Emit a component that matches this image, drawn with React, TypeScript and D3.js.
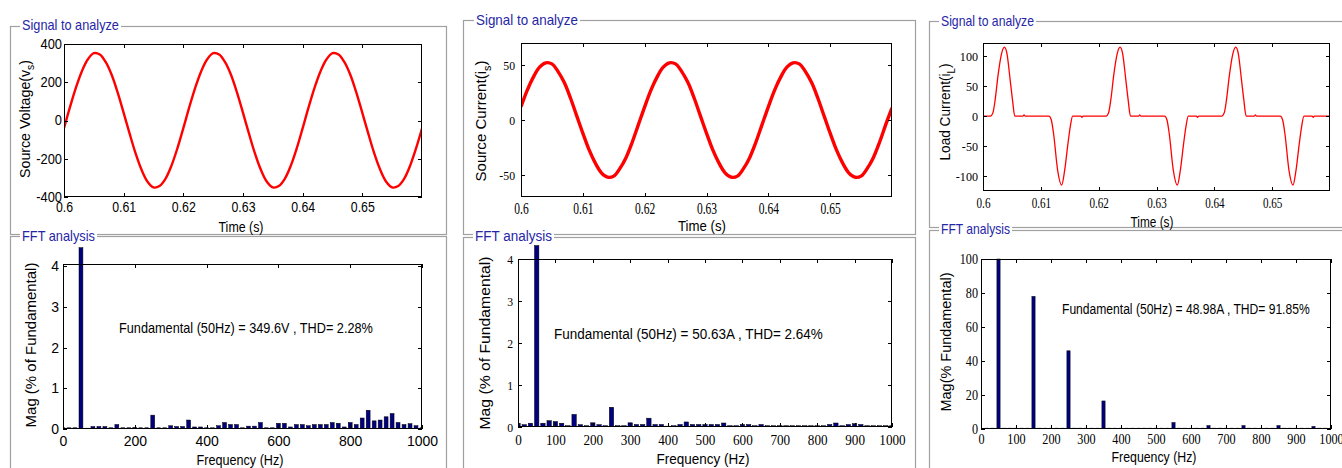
import React, { useEffect, useRef } from "react"
import * as d3 from "d3"

const W = 1342
const H = 468

const SANS = '"Liberation Sans", Arial, sans-serif'
const SERIF = '"Liberation Serif", "Times New Roman", serif'

// sample instants of the captured window (3 cycles of 50 Hz)
const SIG_T = [
	0.600, 0.601, 0.602, 0.603, 0.604, 0.605, 0.606, 0.607, 0.608, 0.609,
	0.610, 0.611, 0.612, 0.613, 0.614, 0.615, 0.616, 0.617, 0.618, 0.619,
	0.620, 0.621, 0.622, 0.623, 0.624, 0.625, 0.626, 0.627, 0.628, 0.629,
	0.630, 0.631, 0.632, 0.633, 0.634, 0.635, 0.636, 0.637, 0.638, 0.639,
	0.640, 0.641, 0.642, 0.643, 0.644, 0.645, 0.646, 0.647, 0.648, 0.649,
	0.650, 0.651, 0.652, 0.653, 0.654, 0.655, 0.656, 0.657, 0.658, 0.659,
	0.660,
]

const SOURCE_V = [
	-40, 70, 172, 258, 320, 352, 345, 305, 238, 146,
	40, -69, -172, -258, -320, -350, -343, -305, -237, -146,
	-40, 70, 172, 258, 320, 352, 345, 305, 238, 146,
	40, -69, -172, -258, -320, -350, -343, -305, -237, -146,
	-40, 70, 172, 258, 320, 352, 345, 305, 238, 146,
	40, -69, -172, -258, -320, -350, -343, -305, -237, -146,
	-42,
]

const SOURCE_I = [
	12, 27, 39, 48, 52, 51, 44, 34, 20, 4,
	-12, -27, -39, -48, -52, -51, -44, -34, -20, -4,
	12, 27, 39, 48, 52, 51, 44, 34, 20, 4,
	-12, -27, -39, -48, -52, -51, -44, -34, -20, -4,
	12, 27, 39, 48, 52, 51, 44, 34, 20, 4,
	-12, -27, -39, -48, -52, -51, -44, -34, -20, -4,
	11,
]

// load current, read at its breakpoints
const LOAD_T = [
	0.6000, 0.6013, 0.6017, 0.6021, 0.6026, 0.6032, 0.6037, 0.60415, 0.6047, 0.6051, 0.6055,
	0.6069, 0.6071, 0.6073,
	0.6114, 0.6118, 0.6122, 0.6129, 0.6136, 0.6141, 0.6147, 0.6151, 0.6155,
	0.6169, 0.6171, 0.6173,
	0.6213, 0.6217, 0.6221, 0.6226, 0.6232, 0.6237, 0.62415, 0.6247, 0.6251, 0.6255,
	0.6269, 0.6271, 0.6273,
	0.6314, 0.6318, 0.6322, 0.6329, 0.6336, 0.6341, 0.6347, 0.6351, 0.6355,
	0.6369, 0.6371, 0.6373,
	0.6413, 0.6417, 0.6421, 0.6426, 0.6432, 0.6437, 0.64415, 0.6447, 0.6451, 0.6455,
	0.6469, 0.6471, 0.6473,
	0.6514, 0.6518, 0.6522, 0.6529, 0.6536, 0.6541, 0.6547, 0.6551, 0.6555,
	0.6569, 0.6571, 0.6573,
	0.6600,
]
const LOAD_I = [
	0, 0, 5, 27, 68, 104, 115, 104, 60, 27, 0,
	0, 2, 0,
	0, -6, -29, -90, -115, -92, -45, -17, 0,
	0, -2, 0,
	0, 5, 27, 68, 104, 115, 104, 60, 27, 0,
	0, 2, 0,
	0, -6, -29, -90, -115, -92, -45, -17, 0,
	0, -2, 0,
	0, 5, 27, 68, 104, 115, 104, 60, 27, 0,
	0, 2, 0,
	0, -6, -29, -90, -115, -92, -45, -17, 0,
	0, -2, 0,
	0,
]

// FFT bins (resolution 1/0.06 s)
const FFT_FREQ = [
	0, 16.7, 33.3, 50, 66.7, 83.3, 100, 116.7, 133.3, 150,
	166.7, 183.3, 200, 216.7, 233.3, 250, 266.7, 283.3, 300, 316.7,
	333.3, 350, 366.7, 383.3, 400, 416.7, 433.3, 450, 466.7, 483.3,
	500, 516.7, 533.3, 550, 566.7, 583.3, 600, 616.7, 633.3, 650,
	666.7, 683.3, 700, 716.7, 733.3, 750, 766.7, 783.3, 800, 816.7,
	833.3, 850, 866.7, 883.3, 900, 916.7, 933.3, 950, 966.7, 983.3,
	1000,
]

// % of fundamental (fundamental bar shown as far as it is visible)
const VS_FFT = [
	0.03, 0.03, 0.03, 4.45, 0.02, 0.06, 0.06, 0.06, 0.03, 0.11,
	0.03, 0.03, 0.04, 0.03, 0.03, 0.34, 0.03, 0.03, 0.08, 0.06,
	0.06, 0.22, 0.05, 0.05, 0.03, 0.03, 0.08, 0.16, 0.11, 0.11,
	0.03, 0.07, 0.07, 0.16, 0.03, 0.03, 0.14, 0.14, 0.05, 0.11,
	0.11, 0.08, 0.11, 0.11, 0.11, 0.16, 0.14, 0.05, 0.16, 0.11,
	0.27, 0.46, 0.20, 0.22, 0.30, 0.38, 0.16, 0.11, 0.13, 0.08,
	0.03,
]

const IS_FFT = [
	0.09, 0.055, 0.09, 4.32, 0.09, 0.15, 0.13, 0.09, 0.03, 0.30,
	0.055, 0.03, 0.10, 0.055, 0.03, 0.47, 0.03, 0.03, 0.10, 0.06,
	0.06, 0.21, 0.06, 0.06, 0.02, 0.03, 0.06, 0.12, 0.06, 0.06,
	0.06, 0.06, 0.06, 0.095, 0.03, 0.03, 0.06, 0.06, 0.03, 0.06,
	0.03, 0.03, 0.03, 0.03, 0.03, 0.03, 0.03, 0.03, 0.03, 0.03,
	0.06, 0.095, 0.03, 0.06, 0.08, 0.06, 0.03, 0.03, 0.03, 0.03,
	0.03,
]

const IL_FFT = [
	0.5, 0.5, 0.5, 100, 0.5, 0.5, 0.5, 0.5, 0.5, 78,
	0.5, 0.5, 0.5, 0.5, 0.5, 46, 0.5, 0.5, 0.5, 0.5,
	0.5, 16.5, 0.5, 0.5, 0.5, 0.5, 0.5, 0.5, 0.5, 0.5,
	0.5, 0.5, 0.5, 3.8, 0.5, 0.5, 0.5, 0.5, 0.5, 2,
	0.5, 0.5, 0.5, 0.5, 0.5, 2, 0.5, 0.5, 0.5, 0.5,
	0.5, 2, 0.5, 0.5, 0.5, 0.5, 0.5, 1.5, 0.5, 0.5,
	0.5,
]

const TIME_TICKS = [0.6, 0.61, 0.62, 0.63, 0.64, 0.65]
const VS_TICKS = [-400, -200, 0, 200, 400]
const IS_TICKS = [-50, 0, 50]
const IL_TICKS = [-100, -50, 0, 50, 100]
const PCT_TICKS = [0, 1, 2, 3, 4]
const IL_PCT_TICKS = [0, 20, 40, 60, 80, 100]
const FREQ_TICKS_200 = [0, 200, 400, 600, 800, 1000]
const FREQ_TICKS_100 = [0, 100, 200, 300, 400, 500, 600, 700, 800, 900, 1000]

const NOTES = [
	"Fundamental (50Hz) = 349.6V , THD= 2.28%",
	"Fundamental (50Hz) = 50.63A , THD= 2.64%",
	"Fundamental (50Hz) = 48.98A , THD= 91.85%",
]

const FRAMES = [
	{ x: 10, y: 26, r: 446, b: 234, title: "Signal to analyze", tx: 22, ty: 30, tw: 97 },
	{ x: 10, y: 236, r: 446, b: 500, title: "FFT analysis", tx: 22, ty: 241, tw: 73 },
	{ x: 463, y: 20, r: 915, b: 234, title: "Signal to analyze", tx: 476, ty: 25, tw: 102 },
	{ x: 463, y: 237, r: 915, b: 500, title: "FFT analysis", tx: 475, ty: 241, tw: 77 },
	{ x: 929, y: 21, r: 1380, b: 227, title: "Signal to analyze", tx: 941, ty: 26, tw: 93 },
	{ x: 929, y: 230, r: 1380, b: 500, title: "FFT analysis", tx: 941, ty: 234, tw: 69 },
]

const AXES = [
	{
		id: "vs", x0: 64, y0: 44, x1: 422, y1: 197, xd: [0.6, 0.66], yd: [-400, 400],
		xt: TIME_TICKS, yt: VS_TICKS, font: SANS, xs: 14, ys: 14, xsq: 0.88, ysq: 0.92, xpad: 5, ypad: 2,
		line: { t: SIG_T, v: SOURCE_V, sw: 2.4, curve: d3.curveCatmullRom },
		xlabel: { text: "Time (s)", x: 241, y: 232, w: 45, size: 15 },
		ylabel: { text: "Source Voltage(v", sub: "s", after: ")", x: 30, y: 119, w: 118, size: 14 },
	},
	{
		id: "vsf", x0: 63, y0: 264, x1: 422, y1: 429, xd: [0, 1000], yd: [0, 4.05],
		xt: FREQ_TICKS_200, yt: PCT_TICKS, font: SANS, xs: 14, ys: 14, xsq: 1, ysq: 1, xpad: 7.5, ypad: 4,
		bars: { f: FFT_FREQ, v: VS_FFT, width: 0.65 },
		note: { text: NOTES[0], x: 119, y: 333, w: 254, size: 14 },
		xlabel: { text: "Frequency (Hz)", x: 240, y: 465, w: 87, size: 15 },
		ylabel: { text: "Mag (% of Fundamental)", x: 36, y: 345, w: 165, size: 15 },
	},
	{
		id: "is", x0: 521, y0: 43, x1: 892, y1: 197, xd: [0.6, 0.66], yd: [-70, 70],
		xt: TIME_TICKS, yt: IS_TICKS, font: SERIF, xs: 16, ys: 13.5, xsq: 0.72, ysq: 0.87, xpad: 6, ypad: 6,
		line: { t: SIG_T, v: SOURCE_I, sw: 3.4, curve: d3.curveCatmullRom },
		xlabel: { text: "Time (s)", x: 702, y: 231, w: 48, size: 15 },
		ylabel: { text: "Source Current(i", sub: "s", after: ")", x: 486, y: 121, w: 121, size: 15 },
	},
	{
		id: "isf", x0: 518, y0: 259, x1: 892, y1: 427, xd: [0, 1000], yd: [0, 4],
		xt: FREQ_TICKS_100, yt: PCT_TICKS, font: SERIF, xs: 15.5, ys: 13.5, xsq: 0.85, ysq: 0.87, xpad: 7, ypad: 5,
		bars: { f: FFT_FREQ, v: IS_FFT, width: 0.7 },
		note: { text: NOTES[1], x: 554, y: 339, w: 269, size: 15.5 },
		xlabel: { text: "Frequency (Hz)", x: 703, y: 464, w: 93, size: 15 },
		ylabel: { text: "Mag (% of Fundamental)", x: 490, y: 343, w: 173, size: 15 },
	},
	{
		id: "il", x0: 983, y0: 43, x1: 1330, y1: 191, xd: [0.6, 0.66], yd: [-125, 122],
		xt: TIME_TICKS, yt: IL_TICKS, font: SERIF, xs: 15, ys: 13, xsq: 0.74, ysq: 0.93, xpad: 6, ypad: 5,
		line: { t: LOAD_T, v: LOAD_I, sw: 1.3, curve: d3.curveMonotoneX },
		xlabel: { text: "Time (s)", x: 1152, y: 227, w: 43, size: 14 },
		ylabel: { text: "Load Current(i", sub: "L", after: ")", x: 950, y: 112, w: 97, size: 15 },
	},
	{
		id: "ilf", x0: 981, y0: 259, x1: 1331, y1: 429, xd: [0, 1000], yd: [0, 100],
		xt: FREQ_TICKS_100, yt: IL_PCT_TICKS, font: SERIF, xs: 14, ys: 14, xsq: 0.87, ysq: 0.87, xpad: 5, ypad: 3,
		bars: { f: FFT_FREQ, v: IL_FFT, width: 0.55 },
		note: { text: NOTES[2], x: 1062, y: 314, w: 248, size: 15 },
		xlabel: { text: "Frequency (Hz)", x: 1154, y: 462, w: 85, size: 15 },
		ylabel: { text: "Mag(% Fundamental)", x: 951, y: 342, w: 139, size: 15 },
	},
]

// text squeezed/stretched along its own direction to a given width
function addText(parent, o) {
	const t = parent
		.append("text")
		.attr("font-family", o.family || SANS)
		.attr("font-size", o.size)
		.attr("text-anchor", o.anchor || "middle")
		.attr("fill", o.fill || "#000")
	t.append("tspan").text(o.text)
	if (o.sub) {
		t.append("tspan").attr("font-size", o.size * 0.72).attr("dy", o.size * 0.3).text(o.sub)
		t.append("tspan").attr("dy", -o.size * 0.3).text(o.after)
	}
	const natural = t.node().getComputedTextLength()
	const sx = o.w ? o.w / natural : 1
	t.attr("transform", `translate(${o.x},${o.y}) rotate(${o.rotate || 0}) scale(${sx},1)`)
	return t
}

function drawFrame(svg, f) {
	const g = svg.append("g")
	g.append("rect")
		.attr("x", f.x + 0.5)
		.attr("y", f.y + 0.5)
		.attr("width", f.r - f.x)
		.attr("height", f.b - f.y)
		.attr("fill", "none")
		.attr("stroke", "#a0a0a0")
		.attr("stroke-width", 1.2)
	g.append("rect")
		.attr("x", f.tx - 2)
		.attr("y", f.y - 3)
		.attr("width", f.tw + 4)
		.attr("height", 7)
		.attr("fill", "#fff")
	addText(g, {
		text: f.title, x: f.tx, y: f.ty, w: f.tw, size: 14, anchor: "start", fill: "#2626a6",
	})
}

function styleTicks(axisG, font, size, squeeze) {
	axisG.select(".domain").remove()
	axisG.attr("font-family", font).attr("font-size", size)
	axisG.selectAll("line").attr("stroke", "#000").attr("shape-rendering", "crispEdges")
	axisG.selectAll("text").attr("fill", "#000").each(function () {
		if (squeeze === 1) return
		const len = this.getComputedTextLength()
		d3.select(this).attr("textLength", len * squeeze).attr("lengthAdjust", "spacingAndGlyphs")
	})
}

function drawAxes(svg, a) {
	const w = a.x1 - a.x0
	const h = a.y1 - a.y0
	const x = d3.scaleLinear().domain(a.xd).range([0, w])
	const y = d3.scaleLinear().domain(a.yd).range([h, 0])
	const g = svg.append("g").attr("transform", `translate(${a.x0},${a.y0})`)

	g.append("rect").attr("width", w).attr("height", h).attr("fill", "#fff")

	const clipId = `clip-${a.id}`
	g.append("clipPath")
		.attr("id", clipId)
		.append("rect")
		.attr("x", 0)
		.attr("y", a.bars ? -40 : 0)
		.attr("width", w)
		.attr("height", a.bars ? h + 40 : h)
	const marks = g.append("g").attr("clip-path", `url(#${clipId})`)

	if (a.bars) {
		const step = x(a.bars.f[1]) - x(a.bars.f[0])
		const bw = step * a.bars.width
		marks
			.selectAll("rect")
			.data(a.bars.f)
			.join("rect")
			.attr("x", (f) => x(f) - bw / 2)
			.attr("width", bw)
			.attr("y", (_, i) => y(a.bars.v[i]))
			.attr("height", (_, i) => y(0) - y(a.bars.v[i]))
			.attr("fill", "#000080")
			.attr("stroke", "#000")
			.attr("stroke-width", 0.5)
	} else {
		const line = d3
			.line()
			.x((_, i) => x(a.line.t[i]))
			.y((v) => y(v))
			.curve(a.line.curve)
		marks
			.append("path")
			.datum(a.line.v)
			.attr("d", line)
			.attr("fill", "none")
			.attr("stroke", "#ff0000")
			.attr("stroke-width", a.line.sw)
			.attr("stroke-linejoin", "round")
	}

	const fmt = (v) => String(v)
	const bottom = g
		.append("g")
		.attr("transform", `translate(0,${h})`)
		.call(d3.axisBottom(x).tickValues(a.xt).tickFormat(fmt).tickSizeInner(-4).tickSizeOuter(0).tickPadding(a.xpad))
	styleTicks(bottom, a.font, a.xs, a.xsq)
	const top = g.append("g").call(d3.axisTop(x).tickValues(a.xt).tickFormat(() => "").tickSizeInner(-4).tickSizeOuter(0))
	styleTicks(top, a.font, a.xs, 1)
	const left = g
		.append("g")
		.call(d3.axisLeft(y).tickValues(a.yt).tickFormat(fmt).tickSizeInner(-4).tickSizeOuter(0).tickPadding(a.ypad))
	styleTicks(left, a.font, a.ys, a.ysq)
	const right = g
		.append("g")
		.attr("transform", `translate(${w},0)`)
		.call(d3.axisRight(y).tickValues(a.yt).tickFormat(() => "").tickSizeInner(-4).tickSizeOuter(0))
	styleTicks(right, a.font, a.ys, 1)

	g.append("rect")
		.attr("x", 0.5)
		.attr("y", 0.5)
		.attr("width", w - 1)
		.attr("height", h - 1)
		.attr("fill", "none")
		.attr("stroke", "#000")
		.attr("stroke-width", 1)
		.attr("shape-rendering", "crispEdges")

	if (a.note) {
		addText(svg, { ...a.note, anchor: "start", family: SANS })
	}
	addText(svg, { ...a.xlabel, family: SANS })
	addText(svg, { ...a.ylabel, family: SANS, rotate: -90 })
}

export default function App() {
	const svgRef = useRef(null)

	useEffect(() => {
		const svg = d3.select(svgRef.current)
		svg.selectAll("*").remove()
		svg.append("rect").attr("width", W).attr("height", H).attr("fill", "#fff")
		FRAMES.forEach((f) => drawFrame(svg, f))
		AXES.forEach((a) => drawAxes(svg, a))
	}, [])

	return (
		<div style={{ position: "absolute", left: 0, top: 0, width: W, height: H, background: "#fff" }}>
			<svg ref={svgRef} width={W} height={H} style={{ display: "block" }}></svg>
		</div>
	)
}
